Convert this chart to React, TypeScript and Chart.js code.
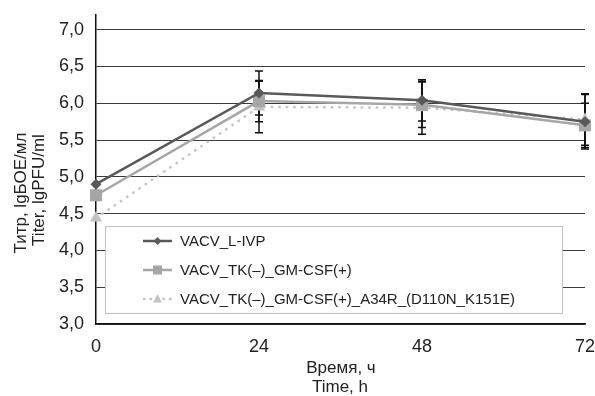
import React, { useEffect, useRef } from 'react';
import { Chart, registerables } from 'chart.js';

Chart.register(...registerables);

const hours = [0, 24, 48, 72];
const seriesNames = [
  'VACV_L-IVP',
  'VACV_TK(\u2013)_GM-CSF(+)',
  'VACV_TK(\u2013)_GM-CSF(+)_A34R_(D110N_K151E)',
];
const livpValues = [4.9, 6.14, 6.04, 5.75];
const livpErrors = [0, 0.3, 0.28, 0.37];
const gmcsfValues = [4.75, 6.03, 5.98, 5.7];
const gmcsfErrors = [0, 0.28, 0.31, 0.3];
const a34rValues = [4.44, 5.95, 5.94, 5.78];
const a34rErrors = [0, 0.35, 0.36, 0.35];
const yTickValues = [3.0, 3.5, 4.0, 4.5, 5.0, 5.5, 6.0, 6.5, 7.0];
const xTickValues = [0, 24, 48, 72];
const yTitle = ['Титр, lgБОЕ/мл', 'Titer, lgPFU/ml'];
const xTitle = ['Время, ч', 'Time, h'];

const FONT = '"Liberation Sans", Arial, sans-serif';
const colors = ['#595959', '#a6a6a6', '#c4c4c4'];
const styles = ['diamond', 'square', 'triangle'];
const errorSets = [livpErrors, gmcsfErrors, a34rErrors];

function drawMarker(ctx: CanvasRenderingContext2D, kind: string, x: number, y: number, s: number, color: string) {
  ctx.save();
  ctx.fillStyle = color;
  ctx.setLineDash([]);
  ctx.beginPath();
  if (kind === 'diamond') {
    ctx.moveTo(x, y - s);
    ctx.lineTo(x + s, y);
    ctx.lineTo(x, y + s);
    ctx.lineTo(x - s, y);
    ctx.closePath();
  } else if (kind === 'square') {
    ctx.rect(x - s, y - s, 2 * s, 2 * s);
  } else {
    ctx.moveTo(x, y - s * 1.1);
    ctx.lineTo(x + s, y + s * 0.8);
    ctx.lineTo(x - s, y + s * 0.8);
    ctx.closePath();
  }
  ctx.fill();
  ctx.restore();
}

const errorBarPlugin = {
  id: 'errorBars',
  beforeDatasetsDraw(chart: any) {
    const ctx = chart.ctx as CanvasRenderingContext2D;
    const xs = chart.scales.x;
    const ys = chart.scales.y;
    ctx.save();
    ctx.strokeStyle = '#111';
    ctx.lineWidth = 1.5;
    chart.data.datasets.forEach((ds: any, i: number) => {
      const errs = errorSets[i];
      ds.data.forEach((p: any, j: number) => {
        const e = errs[j];
        if (!e) return;
        const x = xs.getPixelForValue(p.x);
        const y1 = ys.getPixelForValue(p.y + e);
        const y2 = ys.getPixelForValue(p.y - e);
        ctx.beginPath();
        ctx.moveTo(x, y1);
        ctx.lineTo(x, y2);
        ctx.moveTo(x - 4, y1);
        ctx.lineTo(x + 4, y1);
        ctx.moveTo(x - 4, y2);
        ctx.lineTo(x + 4, y2);
        ctx.stroke();
      });
    });
    ctx.restore();
  },
};

const legendTitlesPlugin = {
  id: 'legendTitles',
  afterDatasetsDraw(chart: any) {
    const ctx = chart.ctx as CanvasRenderingContext2D;
    ctx.save();
    ctx.fillStyle = '#ffffff';
    ctx.fillRect(105.5, 226.5, 457, 87);
    ctx.strokeStyle = '#c0c0c0';
    ctx.lineWidth = 1;
    ctx.strokeRect(105.5, 226.5, 457, 87);
    const rows = [241, 270, 299];
    chart.data.datasets.forEach((ds: any, i: number) => {
      const y = rows[i];
      ctx.save();
      ctx.strokeStyle = colors[i];
      ctx.lineWidth = 2.5;
      ctx.lineCap = i === 2 ? 'round' : 'butt';
      ctx.setLineDash(i === 2 ? [0.5, 6] : []);
      ctx.beginPath();
      ctx.moveTo(i === 2 ? 144 : 143, y);
      ctx.lineTo(172, y);
      ctx.stroke();
      ctx.restore();
      drawMarker(ctx, styles[i], 157.5, y, i === 0 ? 4 : 4.5, colors[i]);
      ctx.fillStyle = '#222';
      ctx.font = `15px ${FONT}`;
      ctx.textBaseline = 'middle';
      ctx.textAlign = 'left';
      ctx.fillText(ds.label, 180, y + 0.5);
    });
    ctx.restore();
  },
  afterDraw(chart: any) {
    const ctx = chart.ctx as CanvasRenderingContext2D;
    ctx.save();
    ctx.fillStyle = '#222';
    ctx.font = `17px ${FONT}`;
    ctx.textAlign = 'center';
    ctx.textBaseline = 'middle';
    ctx.fillText(xTitle[0], 341, 368);
    ctx.fillText(xTitle[1], 340, 387.5);
    ctx.save();
    ctx.translate(21, 193);
    ctx.rotate(-Math.PI / 2);
    ctx.fillText(yTitle[0], 0, 0);
    ctx.restore();
    ctx.save();
    ctx.translate(39, 190);
    ctx.rotate(-Math.PI / 2);
    ctx.fillText(yTitle[1], 0, 0);
    ctx.restore();
    ctx.restore();
  },
};

export default function App() {
  const ref = useRef<HTMLCanvasElement | null>(null);
  useEffect(() => {
    if (!ref.current) return;
    const valueSets = [livpValues, gmcsfValues, a34rValues];
    const chart = new Chart(ref.current, {
      type: 'line',
      data: {
        datasets: valueSets.map((vals, i) => ({
          label: seriesNames[i],
          data: hours.map((h, j) => ({ x: h, y: vals[j] })),
          borderColor: colors[i],
          backgroundColor: colors[i],
          borderWidth: 2.5,
          borderDash: i === 2 ? [0.5, 7] : [],
          borderCapStyle: i === 2 ? 'round' : 'butt',
          pointStyle: i === 0 ? 'rectRot' : i === 1 ? 'rect' : 'triangle',
          pointRadius: i === 0 ? 5.5 : i === 1 ? 8.5 : 7,
          pointBorderWidth: 0,
          pointBackgroundColor: colors[i],
          pointBorderColor: colors[i],
          tension: 0,
          fill: false,
          clip: false,
        })),
      },
      options: {
        responsive: false,
        animation: false,
        events: [],
        layout: { padding: { top: 15, right: 10, left: 0, bottom: 0 } },
        plugins: {
          legend: { display: false },
          tooltip: { enabled: false },
        },
        scales: {
          x: {
            type: 'linear',
            min: 0,
            max: 72,
            afterBuildTicks: (s: any) => {
              s.ticks = xTickValues.map((v) => ({ value: v }));
            },
            afterFit: (s: any) => {
              s.height = 72;
              s.paddingLeft = 0;
              s.paddingRight = 0;
            },
            grid: { display: false, drawTicks: false },
            border: { display: true, color: '#111', width: 1.5 },
            ticks: {
              color: '#222',
              padding: 12,
              maxRotation: 0,
              font: { family: FONT, size: 18 },
              callback: (v: any) => String(v),
            },
          },
          y: {
            type: 'linear',
            min: 3,
            max: 7.2,
            afterBuildTicks: (s: any) => {
              s.ticks = yTickValues.map((v) => ({ value: v }));
            },
            afterFit: (s: any) => {
              s.width = 96;
              s.paddingTop = 0;
              s.paddingBottom = 0;
            },
            grid: { color: '#3c3c3c', lineWidth: 1, drawTicks: false },
            border: { display: true, color: '#111', width: 1.5 },
            ticks: {
              color: '#222',
              padding: 12,
              font: { family: FONT, size: 18 },
              callback: (v: any) => Number(v).toFixed(1).replace('.', ','),
            },
          },
        },
      },
      plugins: [errorBarPlugin, legendTitlesPlugin],
    } as any);
    return () => chart.destroy();
  }, []);
  return (
    <div style={{ position: 'absolute', left: 0, top: 0, width: 595, height: 396, background: '#fff' }}>
      <canvas ref={ref} width={595} height={396} />
    </div>
  );
}
